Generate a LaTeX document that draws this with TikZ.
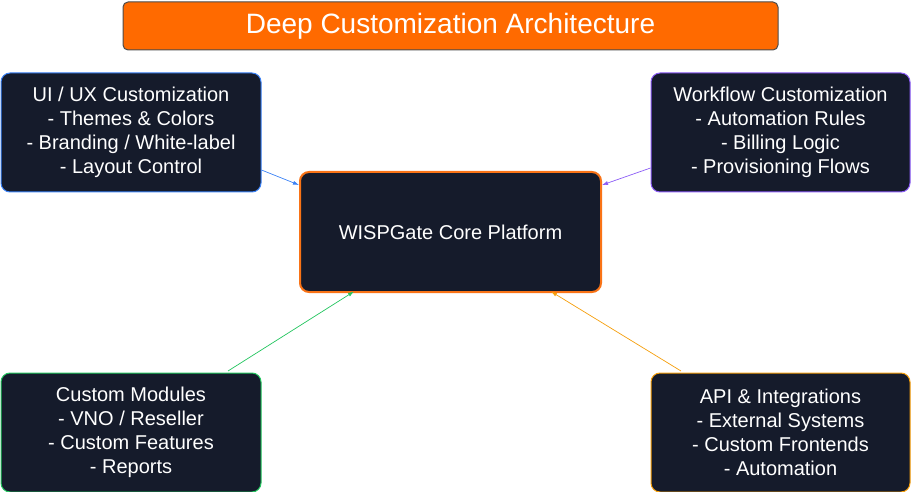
\documentclass[tikz,border=0pt]{standalone}
\usepackage{fontspec}
\setmainfont{Liberation Sans}
\usetikzlibrary{arrows.meta}
\definecolor{boxbg}{HTML}{151B2B}
\definecolor{cblue}{HTML}{3B82F6}
\definecolor{cpurple}{HTML}{8B5CF6}
\definecolor{cgreen}{HTML}{22C55E}
\definecolor{camber}{HTML}{F59E0B}
\definecolor{corange}{HTML}{F97316}
\definecolor{ctitle}{HTML}{FF6A00}
\begin{document}
\begin{tikzpicture}[x=1pt,y=-1pt,
  box/.style={draw, line width=1pt, fill=boxbg, rounded corners=9pt, text=white, align=center,
    font=\fontsize{20}{24}\selectfont, inner sep=0pt},
  arr/.style={-{Latex[length=6pt,width=4pt]}, line width=0.7pt}]
\useasboundingbox (0,0) rectangle (911,492);
\node[draw=black!70, line width=1pt, fill=ctitle, text=white, rounded corners=5pt,
  minimum width=655pt, minimum height=48pt, inner sep=0pt,
  font=\fontsize{28}{32}\selectfont] (title) at (450.5,26) {Deep Customization Architecture};
\node[box, draw=corange, line width=2pt, minimum width=301pt, minimum height=120pt, font=\fontsize{20}{24}\selectfont] (core) at (450.5,232) {WISPGate Core Platform};
\node[box, draw=cblue, minimum width=260pt, minimum height=119pt] (ui) at (131,132.5)
 {UI / UX Customization\\- Themes \& Colors\\- Branding / White-label\\- Layout Control};
\node[box, draw=cpurple, minimum width=259pt, minimum height=119pt] (wf) at (780.5,132.5)
 {Workflow Customization\\- Automation Rules\\- Billing Logic\\- Provisioning Flows};
\node[box, draw=cgreen, minimum width=260pt, minimum height=119pt] (cm) at (131,432.5)
 {Custom Modules\\- VNO / Reseller\\- Custom Features\\- Reports};
\node[box, draw=camber, minimum width=259pt, minimum height=119pt] (api) at (780.5,432.5)
 {API \& Integrations\\- External Systems\\- Custom Frontends\\- Automation};
\draw[arr, cblue] (ui.east |- 0,170) -- (core.west |- 0,185);
\draw[arr, cpurple] (wf.west |- 0,168) -- (core.east |- 0,185);
\draw[arr, cgreen] (228,371) coordinate (a) -- (354,291.5);
\draw[arr, camber] (681,371) coordinate (b) -- (551,291.5);
\end{tikzpicture}
\end{document}
